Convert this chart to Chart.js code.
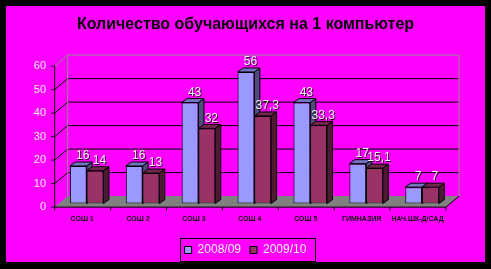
<!DOCTYPE html>
<html>
<head>
<meta charset="utf-8">
<script src="https://cdn.jsdelivr.net/npm/chart.js@4"></script>
<style>
  html, body { margin: 0; padding: 0; background: #000; }
  #wrap { width: 491px; height: 269px; }
</style>
</head>
<body>
<div id="wrap"><canvas id="chart" width="491" height="269"></canvas></div>
<script>
// Данные
const categories = ['СОШ 1', 'СОШ 2', 'СОШ 3', 'СОШ 4', 'СОШ 5', 'ГИМНАЗИЯ', 'НАЧ.ШК-Д/САД'];
const years = ['2008/09', '2009/10'];
const values0809 = [16, 16, 43, 56, 43, 17, 7];
const values0910 = [14, 13, 32, 37.3, 33.3, 15.1, 7];
const yTicks = [0, 10, 20, 30, 40, 50, 60];

// Цвета
const colors = {
  bg: '#ff00ff',
  blue: '#9999ff',
  blueTop: '#7373bf',
  blueSide: '#4d4d80',
  wine: '#993366',
  wineTop: '#73264d',
  wineSide: '#4d1a33',
  floor: '#808080',
  wall: '#8c8c8c'
};

// Смещения псевдо-3D
const FRONT = { dx: -4, dy: 3.5 };   // передняя ось относительно столбцов
const BACK = { dx: 9, dy: -7.5 };    // задняя стенка
const DEPTH = { dx: 5.5, dy: -4 };   // глубина столбца

function line(ctx, x1, y1, x2, y2, color) {
  ctx.strokeStyle = color;
  ctx.beginPath();
  ctx.moveTo(x1, y1);
  ctx.lineTo(x2, y2);
  ctx.stroke();
}

function poly(ctx, pts, fill) {
  ctx.beginPath();
  ctx.moveTo(pts[0][0], pts[0][1]);
  pts.slice(1).forEach(p => ctx.lineTo(p[0], p[1]));
  ctx.closePath();
  ctx.fillStyle = fill;
  ctx.fill();
  ctx.strokeStyle = '#000';
  ctx.stroke();
}

const scenePlugin = {
  id: 'scene',
  beforeDraw(chart) {
    const ctx = chart.ctx;
    const y = chart.scales.y;
    const { left, right } = chart.chartArea;
    ctx.save();
    ctx.fillStyle = '#000';
    ctx.fillRect(0, 0, chart.width, chart.height);
    ctx.fillStyle = colors.bg;
    ctx.fillRect(6, 6, 479, 256);
    ctx.lineWidth = 1;

    const fx0 = left + FRONT.dx, fx1 = right + FRONT.dx;
    const bx0 = left + BACK.dx, bx1 = right + BACK.dx;
    const y0 = y.getPixelForValue(0);
    const yTop = y.getPixelForValue(60);

    // пол
    ctx.beginPath();
    ctx.moveTo(fx0, y0 + FRONT.dy);
    ctx.lineTo(fx1, y0 + FRONT.dy);
    ctx.lineTo(bx1, y0 + BACK.dy);
    ctx.lineTo(bx0, y0 + BACK.dy);
    ctx.closePath();
    ctx.fillStyle = colors.floor;
    ctx.fill();
    line(ctx, fx1, y0 + FRONT.dy, bx1, y0 + BACK.dy, '#000');

    // стенки и сетка
    yTicks.forEach(v => {
      const p = y.getPixelForValue(v);
      const c = v === 60 ? colors.wall : '#000';
      if (v > 0) line(ctx, bx0, p + BACK.dy, bx1, p + BACK.dy, c);
      if (v > 0) line(ctx, fx0, p + FRONT.dy, bx0, p + BACK.dy, c);
      line(ctx, fx0 - 3.5, p + FRONT.dy, fx0, p + FRONT.dy, '#000');
    });
    line(ctx, bx0, yTop + BACK.dy, bx0, y0 + BACK.dy, colors.wall);
    line(ctx, bx1, yTop + BACK.dy, bx1, y0 + BACK.dy, colors.wall);

    // оси
    line(ctx, fx0, yTop + FRONT.dy, fx0, y0 + FRONT.dy, '#000');
    line(ctx, fx0, y0 + FRONT.dy, fx1, y0 + FRONT.dy, '#000');
    const step = (right - left) / categories.length;
    for (let i = 0; i <= categories.length; i++) {
      const x = fx0 + i * step;
      line(ctx, x, y0 + FRONT.dy, x, y0 + FRONT.dy + 3.5, '#000');
    }
    ctx.restore();
  },
  beforeDatasetsDraw(chart) {
    // верх и бок столбцов
    const ctx = chart.ctx;
    ctx.save();
    ctx.lineWidth = 1;
    const metas = [chart.getDatasetMeta(0), chart.getDatasetMeta(1)];
    const tops = [colors.blueTop, colors.wineTop];
    const sides = [colors.blueSide, colors.wineSide];
    categories.forEach((_, i) => {
      metas.forEach((meta, d) => {
        const bar = meta.data[i];
        const l = bar.x - bar.width / 2, r = bar.x + bar.width / 2;
        poly(ctx, [[r, bar.y], [r + DEPTH.dx, bar.y + DEPTH.dy], [r + DEPTH.dx, bar.base + DEPTH.dy], [r, bar.base]], sides[d]);
        poly(ctx, [[l, bar.y], [r, bar.y], [r + DEPTH.dx, bar.y + DEPTH.dy], [l + DEPTH.dx, bar.y + DEPTH.dy]], tops[d]);
      });
    });
    ctx.restore();
  },
  afterDatasetsDraw(chart) {
    // подписи значений
    const ctx = chart.ctx;
    ctx.save();
    ctx.font = '12px Arial, "Liberation Sans", sans-serif';
    ctx.textAlign = 'center';
    ctx.textBaseline = 'middle';
    ctx.shadowColor = 'rgba(0,0,0,0.85)';
    ctx.shadowOffsetX = 1;
    ctx.shadowOffsetY = 1;
    ctx.fillStyle = '#f4f4f4';
    chart.data.datasets.forEach((ds, d) => {
      chart.getDatasetMeta(d).data.forEach((bar, i) => {
        ctx.fillText(String(ds.data[i]).replace('.', ','), bar.x + 4.5, bar.y - 10);
      });
    });
    ctx.restore();
  },
  afterDraw(chart) {
    // рамка легенды
    const boxes = chart.legend.legendHitBoxes;
    if (!boxes || !boxes.length) return;
    const last = boxes[boxes.length - 1];
    const ctx = chart.ctx;
    ctx.save();
    ctx.strokeStyle = '#000';
    ctx.lineWidth = 1;
    const x0 = boxes[0].left - 5, x1 = last.left + last.width + 8;
    const yc = boxes[0].top + boxes[0].height / 2;
    ctx.strokeRect(Math.round(x0) + 0.5, Math.round(yc - 12) + 0.5, Math.round(x1 - x0), 23);
    ctx.restore();
  }
};

new Chart(document.getElementById('chart'), {
  type: 'bar',
  data: {
    labels: categories,
    datasets: [{
      label: years[0],
      data: values0809,
      backgroundColor: colors.blue,
      borderColor: '#000',
      borderWidth: 1,
      borderSkipped: false,
      categoryPercentage: 0.6,
      barPercentage: 1
    }, {
      label: years[1],
      data: values0910,
      backgroundColor: colors.wine,
      borderColor: '#000',
      borderWidth: 1,
      borderSkipped: false,
      categoryPercentage: 0.6,
      barPercentage: 1
    }]
  },
  options: {
    responsive: false,
    animation: false,
    layout: { padding: { left: 0, right: 0, top: 0, bottom: 3 } },
    plugins: {
      title: {
        display: true,
        text: 'Количество обучающихся на 1 компьютер',
        color: '#000',
        font: { family: 'Arial, "Liberation Sans", sans-serif', size: 16, weight: 'bold' },
        padding: { top: 15, bottom: 28.4 }
      },
      legend: {
        position: 'bottom',
        labels: {
          boxWidth: 7,
          boxHeight: 7,
          padding: 9,
          color: '#f4f4f4',
          font: { family: 'Arial, "Liberation Sans", sans-serif', size: 12 }
        }
      },
      tooltip: { enabled: false }
    },
    scales: {
      x: {
        grid: { display: false, drawTicks: false },
        border: { display: false },
        afterFit: s => { s.height = 31.4; },
        ticks: {
          color: '#111',
          padding: 11,
          labelOffset: -4.5,
          maxRotation: 0,
          autoSkip: false,
          font: { family: 'Arial, "Liberation Sans", sans-serif', size: 7, weight: 'bold' }
        }
      },
      y: {
        min: 0,
        max: 60,
        grid: { display: false, drawTicks: false },
        border: { display: false },
        afterFit: s => { s.width = 58.7; },
        ticks: {
          stepSize: 10,
          color: '#f4f4f4',
          padding: 12.7,
          labelOffset: 3.5,
          font: { family: 'Arial, "Liberation Sans", sans-serif', size: 11 }
        }
      },
      // пустая правая ось — только отступ справа
      yRight: {
        position: 'right',
        grid: { display: false, drawTicks: false },
        border: { display: false },
        ticks: { display: false },
        afterFit: s => { s.width = 41; }
      }
    }
  },
  plugins: [scenePlugin]
});
</script>
</body>
</html>
